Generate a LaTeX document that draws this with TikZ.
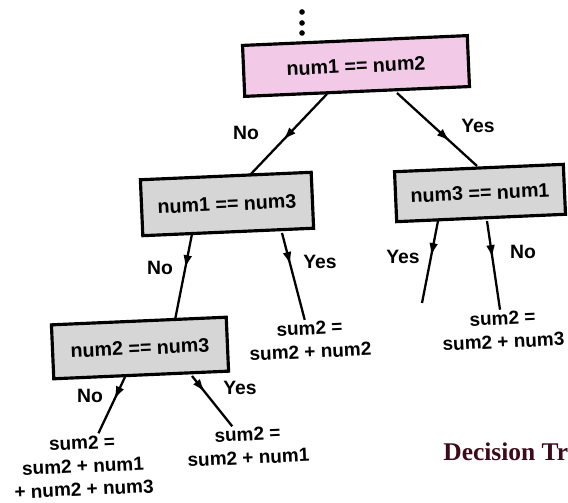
\documentclass[tikz,border=0pt]{standalone}
\usepackage{fontspec}
\setsansfont{Liberation Sans}
\newfontfamily\captionfont{Liberation Serif}
\usetikzlibrary{arrows.meta,calc,decorations.markings}
\definecolor{boxpink}{RGB}{242,202,232}
\definecolor{boxgray}{RGB}{214,214,214}
\definecolor{capred}{RGB}{60,10,25}
\tikzset{
    testbox/.style={draw=black,line width=1.8pt,inner sep=2pt,rotate=2.5,
      font=\sffamily\bfseries\fontsize{11.2}{13}\selectfont},
    leafnode/.style={align=center,inner sep=1pt,rotate=2.5,
      font=\sffamily\bfseries\fontsize{10.8}{13.2}\selectfont},
    lbl/.style={font=\sffamily\bfseries\fontsize{11}{12.5}\selectfont},
    branch/.style={line width=1.3pt,draw=black,postaction={decorate},
      decoration={markings,mark=at position #1 with {\arrow{Latex[length=7.5pt,width=5pt]}}}},
    branch/.default=0.5
}

\begin{document}
\begin{tikzpicture}[x=0.02cm,y=-0.02cm]
  \useasboundingbox (0,0) rectangle (568,503);

  % tests
  \node[testbox,fill=boxpink,minimum width=4.5cm,minimum height=1.02cm]
    (root) at (356,66) {num1 == num2};
  \node[testbox,fill=boxgray,minimum width=3.42cm,minimum height=1.12cm]
    (cond13) at (227,204) {num1 == num3};
  \node[testbox,fill=boxgray,minimum width=3.38cm,minimum height=1.0cm]
    (cond31) at (480,193) {num3 == num1};
  \node[testbox,fill=boxgray,minimum width=3.5cm,minimum height=1.08cm]
    (cond23) at (140,348) {num2 == num3};

  % leaves
  \node[leafnode] (leafA) at (310,340) {sum2 =\\sum2 + num2};
  \node[leafnode] (leafB) at (503,330) {sum2 =\\sum2 + num3};
  \node[leafnode] (leafC) at (83,466) {sum2 =\\sum2 + num1\\+ num2 + num3};
  \node[leafnode] (leafD) at (248,446) {sum2 =\\sum2 + num1};
  \coordinate (yesEnd) at (422,303);

  % dots above the root
  \foreach \y in {12,23,33}{
    \fill (302,\y) circle (1.6pt);
  }

  % branches
  \draw[branch=0.57] ($(root.center)+(-29,28)$) -- ($(cond13.center)+(23,-29)$);
  \draw[branch=0.66] ($(root.center)+(41,27)$) -- ($(cond31.center)+(-3,-27)$);
  \draw[branch=0.4] ($(cond13.center)+(-35,30)$) -- ($(cond23.center)+(35,-28)$);
  \draw[branch=0.37] ($(cond13.center)+(55,29)$) -- (leafA);
  \draw[branch=0.43] ($(cond31.center)+(-42,28)$) -- (yesEnd);
  \draw[branch=0.42] ($(cond31.center)+(7,28)$) -- (leafB);
  \draw[branch=0.4] ($(cond23.center)+(-15,29)$) -- (leafC);
  \draw[branch=0.32] ($(cond23.center)+(52,28)$) -- (leafD);

  % branch labels
  \node[lbl] (no1) at (246,133) {No};
  \node[lbl] (yes1) at (478,126) {Yes};
  \node[lbl] (no2) at (160,268) {No};
  \node[lbl] (yes2) at (320,262) {Yes};
  \node[lbl] (yes3) at (403,257) {Yes};
  \node[lbl] (no3) at (523,252) {No};
  \node[lbl] (no4) at (90,396) {No};
  \node[lbl] (yes4) at (240,388) {Yes};

  \node[anchor=west,text=capred,inner sep=0pt,
    font=\captionfont\bfseries\fontsize{14.5}{16}\selectfont]
    (caption) at (443,452) {Decision Tr};
\end{tikzpicture}
\end{document}
